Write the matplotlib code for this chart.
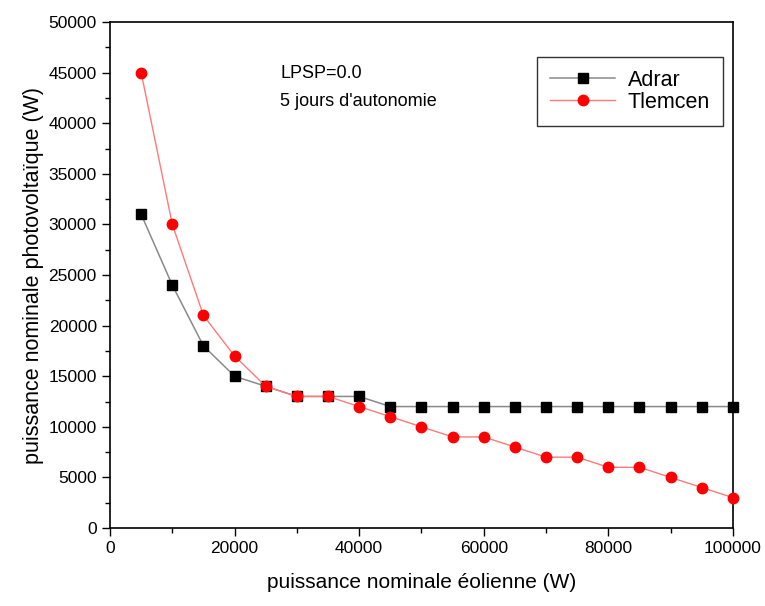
import numpy as np
import matplotlib.pyplot as plt

plt.rcParams['font.family'] = ['Liberation Sans', 'DejaVu Sans']

# Puissance éolienne (W)
wind = [5000, 10000, 15000, 20000, 25000, 30000, 35000, 40000, 45000, 50000,
        55000, 60000, 65000, 70000, 75000, 80000, 85000, 90000, 95000, 100000]
adrar = [31000, 24000, 18000, 15000, 14000, 13000, 13000, 13000, 12000, 12000,
         12000, 12000, 12000, 12000, 12000, 12000, 12000, 12000, 12000, 12000]
tlemcen = [45000, 30000, 21000, 17000, 14000, 13000, 13000, 12000, 11000, 10000,
           9000, 9000, 8000, 7000, 7000, 6000, 6000, 5000, 4000, 3000]

fig = plt.figure(figsize=(7.65, 6.06), dpi=100)
ax = fig.add_axes([0.1438, 0.1287, 0.958 - 0.1438, 0.9637 - 0.1287])

ax.plot(wind, adrar, color='#8a8a8a', lw=1.1, marker='s', ms=7,
        mfc='black', mec='black', label='Adrar', clip_on=False, zorder=3)
ax.plot(wind, tlemcen, color='#ff7a7a', lw=1, marker='o', ms=7.5,
        mfc='red', mec='red', label='Tlemcen', clip_on=False, zorder=4)

ax.set_xlim(0, 100000)
ax.set_ylim(0, 50000)
ax.set_xticks(np.arange(0, 100001, 20000))
ax.set_xticks(np.arange(0, 100001, 10000), minor=True)
ax.set_yticks(np.arange(0, 50001, 5000))
ax.set_yticks(np.arange(0, 50001, 2500), minor=True)
ax.tick_params(which='both', direction='out', top=False, right=False,
               labelsize=12.5, width=1)
ax.tick_params(which='major', length=6)
ax.tick_params(which='minor', length=3.5)
for s in ax.spines.values():
    s.set_linewidth(1.2)

ax.set_xlabel('puissance nominale éolienne (W)', fontsize=15, labelpad=12)
ax.set_ylabel('puissance nominale photovoltaïque (W)', fontsize=15.5, labelpad=3)

ax.text(27300, 44900, 'LPSP=0.0', fontsize=13, va='center')
ax.text(27300, 42100, "5 jours d'autonomie", fontsize=13, va='center')

leg = ax.legend(loc='upper right', bbox_to_anchor=(0.984, 0.931), fontsize=15.5,
                frameon=True, fancybox=False, edgecolor='black',
                handlelength=3.0, borderpad=0.6, labelspacing=0.05,
                handletextpad=0.6, borderaxespad=0)
leg.get_frame().set_linewidth(1)

fig.savefig('out.png', dpi=100)
